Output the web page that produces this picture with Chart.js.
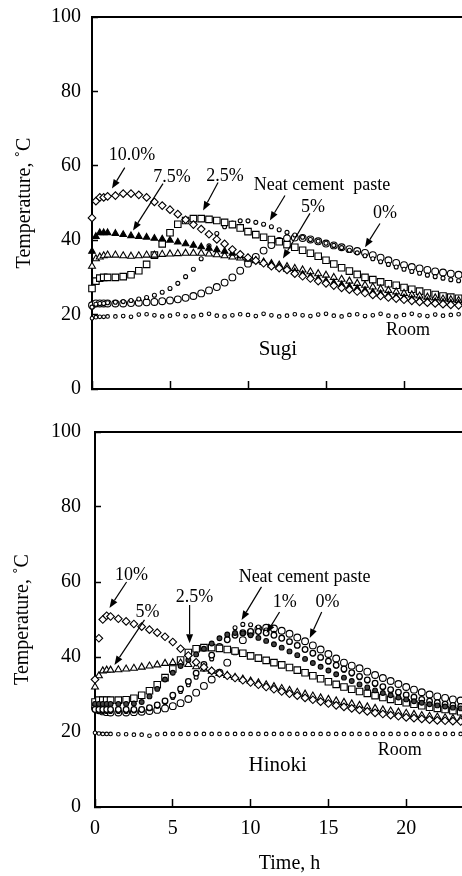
<!DOCTYPE html>
<html>
<head>
<meta charset="utf-8">
<script src="https://cdn.jsdelivr.net/npm/chart.js@4.4.1/dist/chart.umd.min.js"></script>
<style>
  html, body { margin: 0; padding: 0; background: #fff; overflow: hidden; }
  #wrap { position: relative; width: 462px; height: 876px; overflow: hidden; background: #fff; }
  canvas { position: absolute; left: 0; }
</style>
</head>
<body>
<div id="wrap">
  <!-- canvases are a bit bigger than the picture: Chart.js reserves room
       for the tick labels, the overflow is cropped like the original -->
  <canvas id="sugi" width="490" height="442" style="top:-12px"></canvas>
  <canvas id="hinoki" width="502" height="476" style="top:400px"></canvas>
</div>
<script>
// sampling times (h), shared by every series
const hours = [
  0, 0.25, 0.5, 0.75, 1,
  1.5, 2, 2.5, 3, 3.5,
  4, 4.5, 5, 5.5, 6,
  6.5, 7, 7.5, 8, 8.5,
  9, 9.5, 10, 10.5, 11,
  11.5, 12, 12.5, 13, 13.5,
  14, 14.5, 15, 15.5, 16,
  16.5, 17, 17.5, 18, 18.5,
  19, 19.5, 20, 20.5, 21,
  21.5, 22, 22.5, 23, 23.5,
  24
];

// ---- Sugi (top panel), temperature in deg C ----
const sugiRoom = [
  19.0, 19.3, 19.4, 19.4, 19.5,
  19.5, 19.6, 19.4, 20.0, 20.1,
  19.8, 19.5, 19.7, 20.1, 19.6,
  19.5, 19.9, 20.2, 19.7, 19.5,
  19.8, 20.1, 19.9, 19.6, 20.2,
  19.8, 19.5, 19.7, 20.1, 19.8,
  19.6, 20.0, 20.2, 19.7, 19.5,
  19.9, 20.1, 19.6, 19.8, 20.2,
  19.7, 19.5, 19.9, 20.2, 19.8,
  19.6, 20.0, 19.7, 19.9, 20.1,
  19.8
];
const sugi10 = [
  46.0, 50.5, 51.5, 51.5, 51.8,
  52.0, 52.5, 52.5, 52.2, 51.5,
  50.3, 49.3, 48.2, 47.0, 45.5,
  44.2, 43.0, 41.6, 40.2, 39.0,
  37.5, 36.2, 35.3, 34.5, 33.8,
  33.0, 32.5, 32.0, 31.0, 30.3,
  29.7, 29.0, 28.4, 27.8, 27.2,
  26.7, 26.2, 25.8, 25.3, 25.0,
  24.6, 24.3, 24.0, 23.7, 23.4,
  23.2, 23.0, 22.8, 22.6, 22.5,
  22.4
];
const sugi75 = [
  37.0, 41.0, 42.0, 42.0, 42.0,
  41.8, 41.5, 41.2, 41.0, 40.8,
  40.5, 40.3, 40.0, 39.5, 39.0,
  38.6, 38.2, 37.8, 37.4, 37.0,
  36.5, 35.8, 35.2, 34.5, 34.0,
  33.3, 32.8, 32.2, 31.5, 30.8,
  30.2, 29.6, 29.0, 28.5, 28.0,
  27.5, 27.0, 26.5, 26.0, 25.6,
  25.2, 24.8, 24.5, 24.2, 23.9,
  23.7, 23.5, 23.3, 23.1, 23.0,
  22.9
];
const sugi5 = [
  33.0, 35.0, 35.5, 35.8, 36.0,
  36.0, 35.8, 35.7, 35.8, 36.0,
  36.0, 36.2, 36.3, 36.4, 36.5,
  36.5, 36.5, 36.3, 36.1, 35.8,
  35.5, 35.2, 34.9, 34.5, 34.1,
  33.7, 33.3, 32.9, 32.4, 32.0,
  31.5, 31.0, 30.6, 30.0, 29.5,
  29.0, 28.4, 27.9, 27.4, 26.9,
  26.5, 26.1, 25.7, 25.3, 25.0,
  24.7, 24.5, 24.2, 24.0, 23.8,
  23.7
];
const sugi25 = [
  27.0, 29.0, 29.8, 30.0, 30.0,
  30.0, 30.2, 30.7, 31.8, 33.5,
  36.0, 39.0, 42.0, 44.3, 45.3,
  45.8, 45.8, 45.6, 45.3, 44.8,
  44.2, 43.3, 42.3, 41.5, 40.8,
  40.2, 39.6, 38.8, 38.1, 37.3,
  36.5, 35.7, 34.6, 33.6, 32.6,
  31.7, 30.8, 30.0, 29.4, 28.8,
  28.3, 27.9, 27.3, 26.8, 26.3,
  25.8, 25.4, 25.0, 24.7, 24.4,
  24.2
];
const sugiNeat = [
  22.0, 22.8, 23.0, 23.0, 23.2,
  23.3, 23.5, 23.8, 24.2, 24.6,
  25.2, 26.0, 27.0, 28.4, 30.2,
  32.2, 35.0, 38.5, 41.8, 43.6,
  44.6, 45.2, 45.2, 44.8, 44.3,
  43.6, 42.8, 42.1, 41.4, 40.8,
  40.2, 39.7, 39.2, 38.6, 38.0,
  37.3, 36.6, 35.8, 35.0, 34.2,
  33.5, 32.8, 32.2, 31.6, 31.1,
  30.6, 30.2, 29.8, 29.4, 29.1,
  28.8
];
const sugi0 = [
  22.5, 23.0, 23.0, 23.0, 23.0,
  23.0, 23.0, 23.1, 23.2, 23.3,
  23.4, 23.6, 23.8, 24.1, 24.5,
  25.0, 25.7, 26.5, 27.4, 28.6,
  30.0, 31.8, 33.7, 35.5, 37.2,
  38.7, 39.8, 40.5, 40.7, 40.6,
  40.2, 39.7, 39.1, 38.6, 38.1,
  37.6, 37.1, 36.6, 36.0, 35.3,
  34.6, 33.9, 33.3, 32.8, 32.4,
  32.0, 31.6, 31.3, 31.0, 30.7,
  30.5
];

// ---- Hinoki (bottom panel) ----
const hinokiRoom = [
  19.8, 19.6, 19.5, 19.5, 19.5,
  19.4, 19.4, 19.3, 19.3, 19.0,
  19.4, 19.5, 19.5, 19.5, 19.5,
  19.5, 19.5, 19.5, 19.5, 19.5,
  19.5, 19.5, 19.5, 19.5, 19.5,
  19.5, 19.5, 19.5, 19.5, 19.5,
  19.5, 19.5, 19.5, 19.5, 19.5,
  19.5, 19.5, 19.5, 19.5, 19.5,
  19.5, 19.5, 19.5, 19.5, 19.5,
  19.5, 19.5, 19.5, 19.5, 19.5,
  19.5
];
const hinoki10 = [
  34.0, 45.0, 50.0, 51.0, 50.8,
  50.2, 49.5, 48.8, 48.1, 47.3,
  46.5, 45.4, 44.0, 42.2, 40.4,
  38.6, 37.3, 36.3, 35.6, 35.0,
  34.4, 33.8, 33.2, 32.6, 32.0,
  31.4, 30.8, 30.2, 29.7, 29.1,
  28.6, 28.1, 27.6, 27.1, 26.7,
  26.3, 25.9, 25.5, 25.1, 24.8,
  24.5, 24.2, 23.9, 23.7, 23.5,
  23.3, 23.1, 23.0, 22.9, 22.8,
  22.7
];
const hinoki75 = [
  27.5, 27.5, 27.5, 27.5, 27.5,
  27.5, 27.5, 27.6, 28.0, 29.5,
  31.5, 34.0, 35.8, 37.6, 39.2,
  40.7, 42.2, 43.6, 45.0, 46.0,
  46.4, 46.3, 45.8, 45.1, 44.3,
  43.4, 42.5, 41.5, 40.5, 39.5,
  38.4, 37.4, 36.4, 35.4, 34.5,
  33.6, 32.7, 31.9, 31.1, 30.4,
  29.8, 29.2, 28.7, 28.2, 27.8,
  27.4, 27.1, 26.8, 26.5, 26.3,
  26.1
];
const hinoki5 = [
  32.0, 35.0, 36.3, 36.5, 36.5,
  36.6, 36.8, 37.0, 37.3, 37.6,
  37.9, 38.3, 38.5, 38.4, 38.0,
  37.4, 36.8, 36.2, 35.6, 35.1,
  34.6, 34.1, 33.6, 33.1, 32.6,
  32.1, 31.6, 31.1, 30.6, 30.1,
  29.6, 29.1, 28.7, 28.3, 27.9,
  27.5, 27.1, 26.7, 26.3, 25.9,
  25.6, 25.3, 25.0, 24.7, 24.4,
  24.2, 24.0, 23.8, 23.6, 23.4,
  23.2
];
const hinoki25 = [
  28.0, 28.5, 28.5, 28.5, 28.5,
  28.5, 28.6, 29.0, 29.8, 31.0,
  32.6, 34.5, 36.8, 39.2, 41.2,
  42.2, 42.5, 42.5, 42.3, 42.0,
  41.6, 41.0, 40.3, 39.7, 39.1,
  38.5, 37.9, 37.2, 36.5, 35.8,
  35.0, 34.2, 33.4, 32.7, 32.0,
  31.4, 30.8, 30.3, 29.7, 29.2,
  28.7, 28.2, 27.8, 27.4, 27.0,
  26.6, 26.3, 26.0, 25.7, 25.4,
  25.2
];
const hinoki1 = [
  26.0, 26.0, 26.0, 26.0, 26.0,
  26.0, 26.0, 26.0, 26.0, 26.5,
  27.2, 28.3, 29.8, 31.5, 33.5,
  35.7, 38.0, 40.5, 42.8, 44.6,
  45.8, 46.5, 46.8, 46.8, 46.4,
  45.8, 45.0, 44.1, 43.1, 42.0,
  41.0, 39.9, 38.9, 37.8, 36.8,
  35.8, 34.8, 33.9, 33.0, 32.1,
  31.3, 30.6, 29.9, 29.3, 28.7,
  28.2, 27.8, 27.4, 27.1, 26.8,
  26.5
];
const hinokiNeat = [
  26.0, 25.5, 25.5, 25.5, 25.5,
  25.5, 25.5, 25.6, 25.8, 26.2,
  26.9, 27.9, 29.2, 30.8, 32.6,
  34.6, 36.8, 39.5, 42.5, 45.5,
  47.8, 48.7, 48.6, 48.0, 47.2,
  46.3, 45.3, 44.2, 43.1, 42.0,
  40.9, 39.8, 38.7, 37.6, 36.5,
  35.5, 34.5, 33.6, 32.7, 31.9,
  31.1, 30.4, 29.7, 29.1, 28.5,
  28.0, 27.5, 27.1, 26.7, 26.4,
  26.1
];
const hinoki0 = [
  26.5, 25.8, 25.5, 25.3, 25.2,
  25.2, 25.2, 25.3, 25.4, 25.6,
  25.9, 26.3, 26.9, 27.7, 28.8,
  30.5, 32.3, 34.0, 35.8, 38.5,
  41.5, 44.5, 46.5, 47.5, 47.8,
  47.6, 47.0, 46.2, 45.2, 44.2,
  43.1, 42.0, 40.8, 39.6, 38.5,
  37.7, 37.0, 36.1, 35.2, 34.4,
  33.6, 32.8, 32.0, 31.3, 30.6,
  30.0, 29.5, 29.1, 28.7, 28.4,
  28.1
];

const yTicks = [0, 20, 40, 60, 80, 100];
const xTicks = [0, 5, 10, 15, 20, 25];

// labels and arrows, in data units (h, deg C)
const sugiNotes = [
  { text: '10.0%', x: 2.56, y: 62.7, from: [2.1, 59.5], to: [1.28, 53.9] },
  { text: '7.5%', x: 5.13, y: 56.8, from: [4.55, 55.2], to: [2.63, 42.6] },
  { text: '2.5%', x: 8.53, y: 57.1, from: [8.08, 55.5], to: [7.12, 48.0] },
  { text: 'Neat cement  paste', x: 14.74, y: 54.7, from: [12.37, 52.0], to: [11.4, 45.3] },
  { text: '5%', x: 14.17, y: 48.8, from: [13.97, 47.2], to: [12.24, 35.1] },
  { text: '0%', x: 18.78, y: 47.2, from: [18.46, 44.5], to: [17.5, 38.1] },
  { text: 'Room', x: 20.26, y: 15.8 },
  { text: 'Sugi', x: 11.92, y: 10.5, size: 21 }
];
const hinokiNotes = [
  { text: '10%', x: 2.35, y: 61.9, from: [2.03, 60.0], to: [0.93, 53.1] },
  { text: '5%', x: 3.38, y: 52.0, from: [3.18, 49.9], to: [1.25, 37.9] },
  { text: '2.5%', x: 6.4, y: 56.0, from: [6.08, 53.9], to: [6.08, 43.7] },
  { text: 'Neat cement paste', x: 13.47, y: 61.3, from: [10.7, 58.7], to: [9.42, 49.9] },
  { text: '1%', x: 12.19, y: 54.7, from: [11.86, 52.0], to: [11.03, 46.4] },
  { text: '0%', x: 14.95, y: 54.7, from: [14.57, 52.0], to: [13.8, 45.1] },
  { text: 'Room', x: 19.58, y: 15.2 },
  { text: 'Hinoki', x: 11.74, y: 11.2, size: 21 }
];

const SERIF = "'Liberation Serif', 'Times New Roman', serif";
Chart.defaults.font.family = SERIF;
Chart.defaults.color = '#000';

function arrow(ctx, x1, y1, x2, y2) {
  const a = Math.atan2(y2 - y1, x2 - x1);
  const len = 9, half = 3.5;
  const bx = x2 - len * Math.cos(a), by = y2 - len * Math.sin(a);
  ctx.beginPath();
  ctx.moveTo(x1, y1);
  ctx.lineTo(bx, by);
  ctx.stroke();
  ctx.beginPath();
  ctx.moveTo(x2, y2);
  ctx.lineTo(bx + half * Math.sin(a), by - half * Math.cos(a));
  ctx.lineTo(bx - half * Math.sin(a), by + half * Math.cos(a));
  ctx.closePath();
  ctx.fill();
}

const notesPlugin = {
  id: 'notes',
  afterDraw(chart, args, opts) {
    const { ctx, chartArea, scales: { x, y } } = chart;
    ctx.save();
    // frame: top and right edges
    ctx.strokeStyle = '#000';
    ctx.lineWidth = 2;
    ctx.beginPath();
    ctx.moveTo(chartArea.left, chartArea.top);
    ctx.lineTo(chartArea.right, chartArea.top);
    ctx.lineTo(chartArea.right, chartArea.bottom);
    ctx.stroke();

    ctx.fillStyle = '#000';
    ctx.lineWidth = 1.2;
    ctx.textAlign = 'center';
    ctx.textBaseline = 'middle';
    (opts.items || []).forEach(n => {
      ctx.font = (n.size || 18) + 'px ' + SERIF;
      ctx.fillText(n.text, x.getPixelForValue(n.x), y.getPixelForValue(n.y));
      if (n.from) {
        arrow(ctx,
          x.getPixelForValue(n.from[0]), y.getPixelForValue(n.from[1]),
          x.getPixelForValue(n.to[0]), y.getPixelForValue(n.to[1]));
      }
    });
    ctx.restore();
  }
};

function series(label, values, style) {
  return Object.assign({
    label: label,
    data: hours.map((h, i) => ({ x: h, y: values[i] })),
    showLine: false,
    clip: false,
    pointBorderColor: '#000',
    pointBackgroundColor: '#fff',
    pointBorderWidth: 1.1,
    pointHoverRadius: 0
  }, style);
}

function makeChart(id, datasets, notes, cfg) {
  return new Chart(document.getElementById(id), {
    type: 'scatter',
    data: { datasets: datasets },
    plugins: [notesPlugin],
    options: {
      responsive: false,
      animation: false,
      events: [],
      layout: {
        autoPadding: false,
        padding: { top: cfg.padTop, right: cfg.padRight, bottom: 0, left: 0 }
      },
      plugins: {
        legend: { display: false },
        tooltip: { enabled: false },
        notes: { items: notes }
      },
      scales: {
        x: {
          type: 'linear',
          min: 0,
          max: 25,
          afterBuildTicks: s => { s.ticks = xTicks.map(v => ({ value: v })); },
          afterFit: s => { s.height = cfg.xHeight; },
          border: { display: true, color: '#000', width: 2 },
          grid: { drawOnChartArea: false, tickLength: -8, color: '#000', tickWidth: 1.5 },
          ticks: {
            display: cfg.xLabels,
            padding: 18,
            font: { size: 20 },
            color: '#000',
            maxRotation: 0,
            // the 25 h label falls outside the cropped picture
            callback: v => (v === 25 ? '' : v)
          },
          title: {
            display: cfg.xLabels,
            text: 'Time, h',
            font: { size: 20 },
            color: '#000',
            padding: { top: 0, bottom: 0 }
          }
        },
        y: {
          min: 0,
          max: 100,
          afterBuildTicks: s => { s.ticks = yTicks.map(v => ({ value: v })); },
          afterFit: s => { s.width = cfg.yWidth; },
          border: { display: true, color: '#000', width: 2 },
          grid: { drawOnChartArea: false, tickLength: -6, color: '#000', tickWidth: 1.5 },
          ticks: { padding: cfg.yPad, font: { size: 20 }, color: '#000' },
          title: {
            display: true,
            text: 'Temperature, ˚C',
            font: { size: 20 },
            color: '#000',
            padding: { top: cfg.titlePad, bottom: 0 }
          }
        }
      }
    }
  });
}

const openCircle = r => ({ pointStyle: 'circle', pointRadius: r });

makeChart('sugi', [
  series('Room', sugiRoom, openCircle(1.8)),
  series('10.0%', sugi10, { pointStyle: 'rectRot', pointRadius: 3.8 }),
  series('7.5%', sugi75, { pointStyle: 'triangle', pointRadius: 3.8, pointBackgroundColor: '#000' }),
  series('5%', sugi5, { pointStyle: 'triangle', pointRadius: 4 }),
  series('2.5%', sugi25, { pointStyle: 'rect', pointRadius: 4.6 }),
  series('Neat cement paste', sugiNeat, openCircle(2)),
  series('0%', sugi0, openCircle(3.4))
], sugiNotes, { padTop: 0, padRight: 8, xHeight: 41, yWidth: 92, yPad: 17, titlePad: 13, xLabels: false });

makeChart('hinoki', [
  series('Room', hinokiRoom, openCircle(1.8)),
  series('10%', hinoki10, { pointStyle: 'rectRot', pointRadius: 3.8 }),
  series('7.5%', hinoki75, { pointStyle: 'circle', pointRadius: 2.4, pointBackgroundColor: '#444' }),
  series('5%', hinoki5, { pointStyle: 'triangle', pointRadius: 4 }),
  series('2.5%', hinoki25, { pointStyle: 'rect', pointRadius: 4.6 }),
  series('1%', hinoki1, { pointStyle: 'circle', pointRadius: 2.8, pointBorderWidth: 1.3 }),
  series('Neat cement paste', hinokiNeat, openCircle(2)),
  series('0%', hinoki0, openCircle(3.4))
], hinokiNotes, { padTop: 32, padRight: 6, xHeight: 69, yWidth: 95, yPad: 20, titlePad: 11, xLabels: true });
</script>
</body>
</html>
